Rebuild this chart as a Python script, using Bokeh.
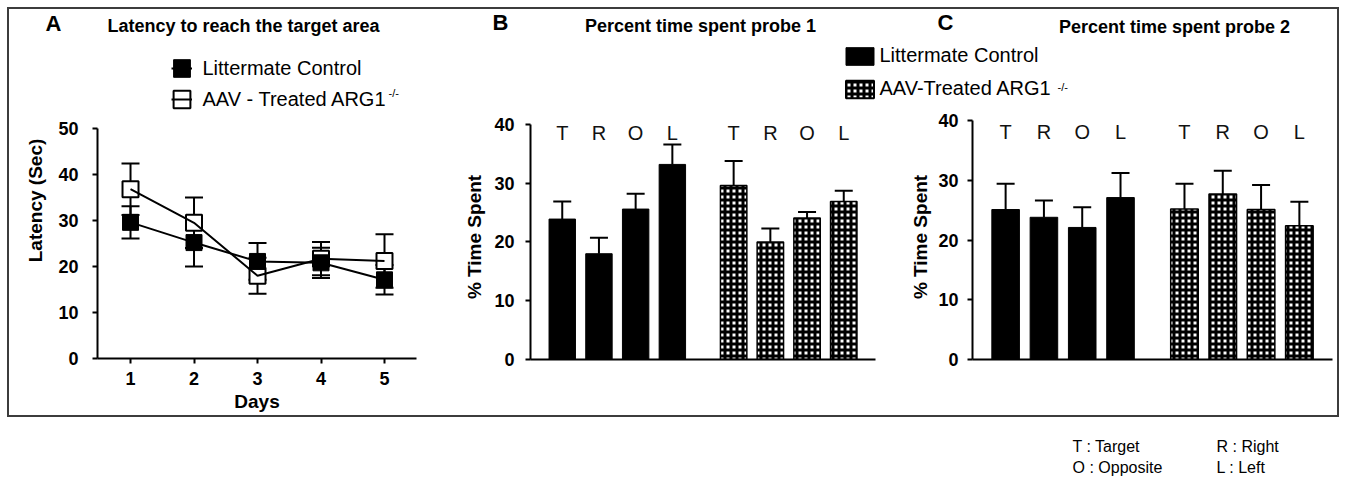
from bokeh.plotting import figure
from bokeh.models import (Range1d, FactorRange, ColumnDataSource, Whisker, TeeHead,
                          Label, Legend, LegendItem, FixedTicker)
from bokeh.layouts import row, column
from bokeh.embed import file_html
from bokeh.resources import INLINE
from bokeh.core.properties import value

FONT = "Liberation Sans"

# ---------------- data ----------------
days = [1, 2, 3, 4, 5]
lc_latency = [29.6, 25.2, 21.1, 20.8, 17.1]
lc_latency_sem = [3.5, 5.2, 4.0, 3.3, 3.2]
aav_latency = [36.8, 29.5, 18.0, 21.7, 21.2]
aav_latency_sem = [5.6, 5.5, 3.9, 3.6, 5.8]

zones = ["T", "R", "O", "L"]
groups = ["Littermate Control", "AAV-Treated ARG1"]
probe1_lc = [23.9, 18.0, 25.6, 33.2]
probe1_lc_sem = [3.0, 2.7, 2.6, 3.4]
probe1_aav = [29.6, 20.0, 24.1, 26.9]
probe1_aav_sem = [4.2, 2.3, 1.0, 1.8]
probe2_lc = [25.1, 23.8, 22.1, 27.1]
probe2_lc_sem = [4.3, 2.8, 3.4, 4.1]
probe2_aav = [25.2, 27.7, 25.1, 22.4]
probe2_aav_sem = [4.2, 3.9, 4.1, 4.0]

latency_ticks = [0, 10, 20, 30, 40, 50]
percent_ticks = [0, 10, 20, 30, 40]
panel_letters = ["A", "B", "C"]
panel_titles = ["Latency to reach the target area", "Percent time spent probe 1",
                "Percent time spent probe 2"]
key_left = ["T : Target", "O : Opposite"]
key_right = ["R : Right", "L : Left"]

W = 1346
TOP_H = 424
TITLE_H = 40
HATCH = dict(fill_color="white", hatch_pattern="cross", hatch_color="black",
             hatch_scale=6, hatch_weight=3)
CLEAR = dict(border_fill_color=None, background_fill_color=None, outline_line_color=None,
             output_backend="svg", toolbar_location=None)


def style_axis(ax, size="18px"):
    ax.axis_line_width = 2
    ax.axis_line_color = "black"
    ax.major_tick_line_width = 2
    ax.major_tick_line_color = "black"
    ax.major_tick_out = 5
    ax.major_tick_in = 0
    ax.minor_tick_line_color = None
    ax.major_label_text_font = FONT
    ax.major_label_text_font_size = size
    ax.major_label_text_font_style = "bold"
    ax.major_label_text_color = "black"
    ax.axis_label_text_font = FONT
    ax.axis_label_text_font_size = "19px"
    ax.axis_label_text_font_style = "bold"
    ax.axis_label_text_color = "black"


def page_strip(width, y0, y1, x0=0):
    """A plain drawing strip whose data coordinates equal page pixels."""
    s = figure(width=width, height=y1 - y0, x_range=Range1d(x0, x0 + width),
               y_range=Range1d(y1, y0), x_axis_type=None, y_axis_type=None, min_border=0,
               **CLEAR)
    s.grid.visible = False
    return s


def add_label(p, x, y, text, size, bold=False, align="center", color="black"):
    p.add_layout(Label(x=x, y=y, text=text, text_font=FONT, text_font_size=f"{size}px",
                       text_font_style="bold" if bold else "normal", text_align=align,
                       text_baseline="middle", text_color=color))


# ---------------- title strip ----------------
title_strip = page_strip(W, 0, TITLE_H)
for (lx, ly), letter in zip([(53, 23), (500, 22), (945, 22)], panel_letters):
    add_label(title_strip, lx, ly, letter, 22, bold=True)
for (tx, ty), title in zip([(243, 25), (700, 25), (1174, 26)], panel_titles):
    add_label(title_strip, tx, ty, title, 18, bold=True)

# ---------------- panel A ----------------
A_LEFT, A_TOP, A_BOTTOM, A_Y50 = 97, 42, 358, 128
pA = figure(width=445, height=TOP_H - TITLE_H,
            x_range=Range1d(0.48, 5.504),
            y_range=Range1d(0, 50 * (A_BOTTOM - A_TOP) / (A_BOTTOM - A_Y50)),
            min_border_left=A_LEFT, min_border_right=29, min_border_top=A_TOP - TITLE_H,
            min_border_bottom=TOP_H - A_BOTTOM, **CLEAR)
pA.grid.visible = False

srcA_lc = ColumnDataSource(dict(x=days, y=lc_latency,
                                lo=[v - e for v, e in zip(lc_latency, lc_latency_sem)],
                                hi=[v + e for v, e in zip(lc_latency, lc_latency_sem)]))
srcA_aav = ColumnDataSource(dict(x=days, y=aav_latency,
                                 lo=[v - e for v, e in zip(aav_latency, aav_latency_sem)],
                                 hi=[v + e for v, e in zip(aav_latency, aav_latency_sem)]))
for src in (srcA_aav, srcA_lc):
    pA.add_layout(Whisker(base="x", lower="lo", upper="hi", source=src, line_width=2,
                          level="underlay",
                          lower_head=TeeHead(size=18, line_width=2, line_color="black"),
                          upper_head=TeeHead(size=18, line_width=2, line_color="black")))
r_aav = pA.rect("x", "y", width=16, height=16, width_units="screen", height_units="screen",
                source=srcA_aav, fill_color="white", line_color="black", line_width=2)
r_lc = pA.rect("x", "y", width=16, height=16, width_units="screen", height_units="screen",
               source=srcA_lc, fill_color="black", line_color="black", line_width=1)
l_aav = pA.line("x", "y", source=srcA_aav, line_width=2, line_color="black")
l_lc = pA.line("x", "y", source=srcA_lc, line_width=2, line_color="black")

style_axis(pA.yaxis[0])
pA.yaxis[0].ticker = FixedTicker(ticks=latency_ticks)
pA.yaxis[0].bounds = (latency_ticks[0], latency_ticks[-1])
pA.yaxis[0].major_label_standoff = 14
pA.yaxis[0].axis_label = "Latency (Sec)"
pA.yaxis[0].axis_label_standoff = 9
style_axis(pA.xaxis[0])
pA.xaxis[0].ticker = FixedTicker(ticks=days)
pA.xaxis[0].major_label_standoff = 8
pA.xaxis[0].axis_label = "Days"
pA.xaxis[0].axis_label_standoff = 3

legA = Legend(items=[LegendItem(label="Littermate Control", renderers=[r_lc, l_lc]),
                     LegendItem(label="AAV - Treated ARG1", renderers=[r_aav, l_aav])],
              location=(170.5 - A_LEFT, A_BOTTOM - 110.5), glyph_width=21, glyph_height=22,
              label_height=22, spacing=8, padding=0, margin=0, label_standoff=11,
              border_line_color=None, background_fill_alpha=0,
              label_text_font=FONT, label_text_font_size="20px", label_text_color="black")
pA.add_layout(legA)
pA.add_layout(Label(x=388 - A_LEFT, y=A_BOTTOM - 92, x_units="screen", y_units="screen",
                    text="-/-", text_font=FONT, text_font_size="11px", text_align="left",
                    text_baseline="middle", text_color="black"))

# ---------------- legend strip of B / C ----------------
leg_strip = page_strip(W - 445, TITLE_H, 112, x0=445)
add_label(leg_strip, 1057, 86, "-/-", 11, align="left")
sw_lc = leg_strip.vbar(x=[0], top=[0], width=1, fill_color="black", line_color="black",
                       visible=False)
sw_aav = leg_strip.vbar(x=[0], top=[0], width=1, line_color="black", line_width=2,
                        visible=False, **HATCH)
legBC = Legend(items=[LegendItem(label=groups[0], renderers=[sw_lc]),
                      LegendItem(label=groups[1], renderers=[sw_aav])],
               location=(841.5 - 445, 112 - 100), glyph_width=35, glyph_height=22,
               label_height=22, spacing=10, padding=0, margin=0, label_standoff=3,
               border_line_color=None, background_fill_alpha=0, inactive_fill_alpha=0,
               label_text_font=FONT, label_text_font_size="20px", label_text_color="black")
leg_strip.add_layout(legBC)

# ---------------- panels B and C ----------------
factors = [(g, z) for g in groups for z in zones]


def bar_panel(lc, lc_sem, aav, aav_sem, width, left, right, zero_px, top_px, lab_px,
              tick_standoff, label_standoff):
    frame_top = 114
    p = figure(width=width, height=TOP_H - 112,
               x_range=FactorRange(*factors, factor_padding=0, group_padding=0.67,
                                   range_padding=0.365, range_padding_units="absolute"),
               y_range=Range1d(0, 40 * (zero_px - frame_top) / (zero_px - top_px)),
               min_border_left=left, min_border_right=right, min_border_top=frame_top - 112,
               min_border_bottom=TOP_H - zero_px, **CLEAR)
    p.grid.visible = False
    s_lc = ColumnDataSource(dict(x=factors[:4], top=lc, up=[v + e for v, e in zip(lc, lc_sem)]))
    s_aav = ColumnDataSource(dict(x=factors[4:], top=aav,
                                  up=[v + e for v, e in zip(aav, aav_sem)]))
    for s in (s_lc, s_aav):
        p.add_layout(Whisker(base="x", lower="top", upper="up", source=s, line_width=2,
                             lower_head=None,
                             upper_head=TeeHead(size=18, line_width=2, line_color="black")))
    p.vbar(x="x", top="top", width=0.72, source=s_lc, fill_color="black", line_color="black")
    p.vbar(x="x", top="top", width=0.72, source=s_aav, line_color="black", line_width=1.5,
           **HATCH)
    ylab = 40 * (zero_px - lab_px) / (zero_px - top_px)
    p.text(x=factors, y=[ylab] * len(factors), text=zones * 2, text_font=value(FONT),
           text_font_size="20px", text_align="center", text_baseline="middle",
           text_color="#111111")
    style_axis(p.yaxis[0])
    p.yaxis[0].ticker = FixedTicker(ticks=percent_ticks)
    p.yaxis[0].bounds = (percent_ticks[0], percent_ticks[-1])
    p.yaxis[0].major_label_standoff = tick_standoff
    p.yaxis[0].axis_label = "% Time Spent"
    p.yaxis[0].axis_label_standoff = label_standoff
    xa = p.xaxis[0]
    xa.axis_line_width = 2
    xa.axis_line_color = "black"
    xa.major_tick_line_color = None
    xa.minor_tick_line_color = None
    xa.separator_line_color = None
    xa.major_label_text_color = None
    xa.group_text_color = None
    return p


pB = bar_panel(probe1_lc, probe1_lc_sem, probe1_aav, probe1_aav_sem, 455, 85, 25,
               360, 124, 133, 11, 6)
pC = bar_panel(probe2_lc, probe2_lc_sem, probe2_aav, probe2_aav_sem, 446, 72, 14,
               359, 120, 131, 9, 4)

# ---------------- footer key ----------------
foot = page_strip(W, TOP_H, 481)
for i, (a, b) in enumerate(zip(key_left, key_right)):
    add_label(foot, 1072, 446 + 21 * i, a, 16, align="left")
    add_label(foot, 1216, 446 + 21 * i, b, 16, align="left")

body = row(pA, column(leg_strip, row(pB, pC)))
top = column(title_strip, body,
             styles={"outline": "2px solid #3c3c3c", "outline-offset": "-9px"})
page = column(top, foot)

open("out.html", "w").write(file_html(page, INLINE))
